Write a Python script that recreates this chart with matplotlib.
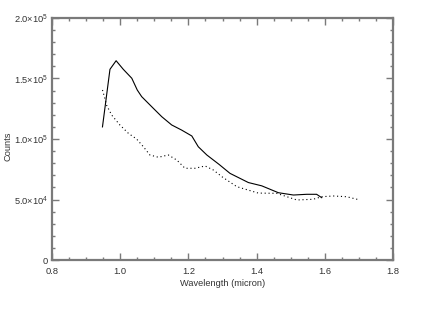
import matplotlib
matplotlib.use("Agg")
import matplotlib.pyplot as plt
from matplotlib.ticker import MultipleLocator, FixedLocator

# Solid curve
solid_x = [0.948, 0.970, 0.988, 1.009, 1.034, 1.050, 1.063, 1.097, 1.122, 1.151,
           1.180, 1.210, 1.229, 1.254, 1.290, 1.322, 1.376, 1.415, 1.464, 1.508,
           1.547, 1.576, 1.591]
solid_y = [110e3, 157.6e3, 164.7e3, 157.6e3, 150.2e3, 140.5e3, 135e3, 125.4e3, 118.4e3, 111.6e3,
           107.4e3, 102.5e3, 93.6e3, 86.8e3, 79e3, 71.6e3, 64e3, 61.3e3, 55.6e3, 53.7e3,
           54.3e3, 54.3e3, 51.5e3]

# Dotted curve
dot_x = [0.948, 0.955, 0.960, 0.975, 0.999, 1.024, 1.048, 1.068, 1.087, 1.112,
         1.141, 1.166, 1.190, 1.219, 1.249, 1.273, 1.300, 1.342, 1.405, 1.459,
         1.518, 1.566, 1.591, 1.625, 1.664, 1.703]
dot_y = [140.5e3, 133.6e3, 128e3, 119.8e3, 111.6e3, 104.7e3, 100e3, 93.6e3, 86.8e3, 84.9e3,
         86.8e3, 82.6e3, 75.8e3, 75.8e3, 77.7e3, 74.4e3, 68.5e3, 60.6e3, 55.3e3, 55.1e3,
         49.6e3, 50.2e3, 52.3e3, 52.9e3, 52.3e3, 49.6e3]

xticks = [0.8, 1.0, 1.2, 1.4, 1.6, 1.8]
xtick_labels = ["0.8", "1.0", "1.2", "1.4", "1.6", "1.8"]
yticks = [0, 5e4, 1e5, 1.5e5, 2e5]
ytick_labels = ["0", r"$5.0{\times}10^4$", r"$1.0{\times}10^5$", r"$1.5{\times}10^5$", r"$2.0{\times}10^5$"]

plt.rcParams['font.family'] = ['Liberation Sans', 'DejaVu Sans']
plt.rcParams['mathtext.fontset'] = 'custom'
plt.rcParams['mathtext.rm'] = 'Liberation Sans'
plt.rcParams['mathtext.it'] = 'Liberation Sans'
plt.rcParams['mathtext.default'] = 'rm'

fig = plt.figure(figsize=(4.36, 3.13), dpi=100)
ax = fig.add_axes([52/436, 53/313, 341/436, 242/313])

ax.plot(solid_x, solid_y, color='black', linewidth=0.8, linestyle='-')
ax.plot(dot_x, dot_y, color='black', linewidth=0.8, linestyle=(0, (1, 2.5)))

ax.set_xlim(0.8, 1.8)
ax.set_ylim(0, 2e5)
ax.xaxis.set_major_locator(FixedLocator(xticks))
ax.set_xticklabels(xtick_labels)
ax.xaxis.set_minor_locator(MultipleLocator(0.05))
ax.yaxis.set_major_locator(FixedLocator(yticks))
ax.set_yticklabels(ytick_labels)
ax.yaxis.set_minor_locator(MultipleLocator(1e4))

for s in ax.spines.values():
    s.set_color('#7a7a7a')
    s.set_linewidth(1.6)
ax.tick_params(which='both', direction='in', top=True, right=True, colors='#7a7a7a',
               labelcolor='#333333', labelsize=6.7)
ax.tick_params(which='major', length=5, width=1)
ax.tick_params(which='minor', length=2.5, width=1)
ax.tick_params(axis='x', pad=5)
ax.tick_params(axis='y', pad=3)

ax.set_xlabel('Wavelength (micron)', fontsize=6.7, color='#333333', labelpad=2)
fig.text(8/436, 1 - 146/313, 'Counts', rotation=90, ha='center', va='center',
         fontsize=6.7, color='#333333')

fig.savefig('out.png', dpi=100)
